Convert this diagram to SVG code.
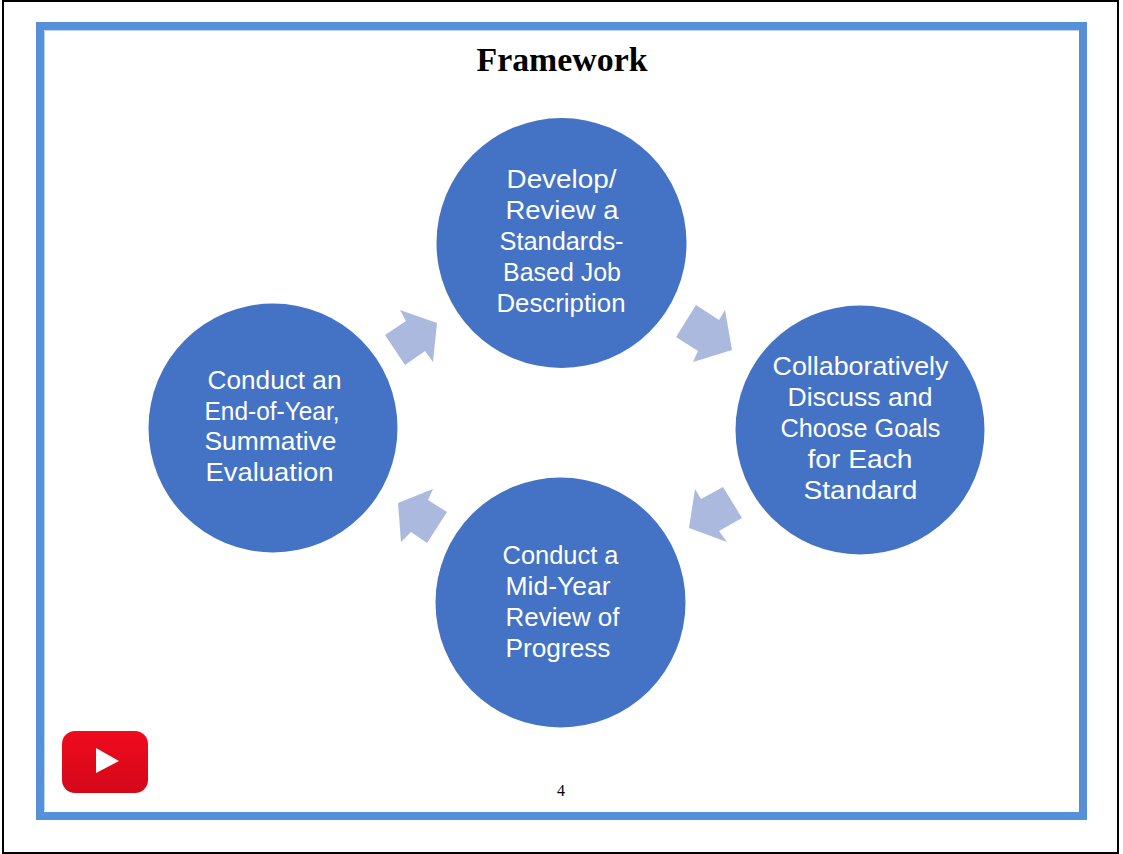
<svg xmlns="http://www.w3.org/2000/svg" width="1123" height="854" viewBox="0 0 1123 854">
<style>
.n{fill:#4472c4}
.t{font-family:"Liberation Sans",Arial,sans-serif;font-size:26px;fill:#fff;text-anchor:middle}
.a{fill:#abb9de}
.s{font-family:"Liberation Serif","Times New Roman",serif;fill:#000;text-anchor:middle}
</style>
<rect width="1123" height="854" fill="#fff"/>
<rect x="3" y="1" width="1115" height="852" fill="none" stroke="#000" stroke-width="2"/>
<g id="frame" fill="none">
<rect x="40" y="26" width="1043" height="790" stroke="#5590d8" stroke-width="8"/>
<path d="M44.500 811V30.500H1078.500" stroke="#bcd4f0" stroke-width="1"/>
</g>
<text class="s" x="562" y="71" font-size="33.500" font-weight="700" textLength="171" lengthAdjust="spacingAndGlyphs">Framework</text>
<g id="connectors">
<polygon class="a" points="696,305 719,320 725,310 732,350 693,362 698,351 676,337"/>
<polygon class="a" points="723,487 742,518 719,531 727,542 689,528 695,489 701,499"/>
<polygon class="a" points="433,489 428,500 447,512 427,543 411,532 401,542 398,503"/>
<polygon class="a" points="400,310 437,323 433,362 425,351 405,365 385,335 406,321"/>
</g>
<g id="node-top">
<circle class="n" cx="561.500" cy="243" r="125"/>
<text class="t" x="561.500" y="188" textLength="110" lengthAdjust="spacingAndGlyphs">Develop/</text>
<text class="t" x="562" y="219" textLength="113" lengthAdjust="spacingAndGlyphs">Review a</text>
<text class="t" x="561.500" y="250" textLength="124" lengthAdjust="spacingAndGlyphs">Standards-</text>
<text class="t" x="562" y="281" textLength="118" lengthAdjust="spacingAndGlyphs">Based Job</text>
<text class="t" x="561" y="312" textLength="129" lengthAdjust="spacingAndGlyphs">Description</text>
</g>
<g id="node-right">
<circle class="n" cx="860" cy="430" r="124.500"/>
<text class="t" x="860.500" y="374.500" textLength="176" lengthAdjust="spacingAndGlyphs">Collaboratively</text>
<text class="t" x="860" y="405.500" textLength="145" lengthAdjust="spacingAndGlyphs">Discuss and</text>
<text class="t" x="860.500" y="436.500" textLength="160" lengthAdjust="spacingAndGlyphs">Choose Goals</text>
<text class="t" x="860" y="468" textLength="105" lengthAdjust="spacingAndGlyphs">for Each</text>
<text class="t" x="860.500" y="498.500" textLength="114" lengthAdjust="spacingAndGlyphs">Standard</text>
</g>
<g id="node-bottom">
<circle class="n" cx="560.500" cy="602.500" r="125"/>
<text class="t" x="560.500" y="563.500" textLength="116" lengthAdjust="spacingAndGlyphs">Conduct a</text>
<text class="t" x="558" y="594.500" textLength="105" lengthAdjust="spacingAndGlyphs">Mid-Year</text>
<text class="t" x="562.500" y="625.500" textLength="114" lengthAdjust="spacingAndGlyphs">Review of</text>
<text class="t" x="558" y="656.500" textLength="105" lengthAdjust="spacingAndGlyphs">Progress</text>
</g>
<g id="node-left">
<circle class="n" cx="273" cy="428" r="124.500"/>
<text class="t" x="274.500" y="388.500" textLength="134" lengthAdjust="spacingAndGlyphs">Conduct an</text>
<text class="t" x="272" y="419.500" textLength="135" lengthAdjust="spacingAndGlyphs">End-of-Year,</text>
<text class="t" x="270.500" y="449.500" textLength="132" lengthAdjust="spacingAndGlyphs">Summative</text>
<text class="t" x="269.500" y="480.500" textLength="128" lengthAdjust="spacingAndGlyphs">Evaluation</text>
</g>
<defs><linearGradient id="yt" x1="0" y1="0" x2="0" y2="1"><stop offset="0" stop-color="#f00a1e"/><stop offset="1" stop-color="#d4081a"/></linearGradient></defs>
<g id="youtube-icon">
<rect x="62" y="731" width="86" height="62" rx="13" fill="url(#yt)"/>
<polygon points="96,748 119,761 96,773" fill="#fff"/>
</g>
<text class="s" x="561" y="796" font-size="16">4</text>
</svg>
